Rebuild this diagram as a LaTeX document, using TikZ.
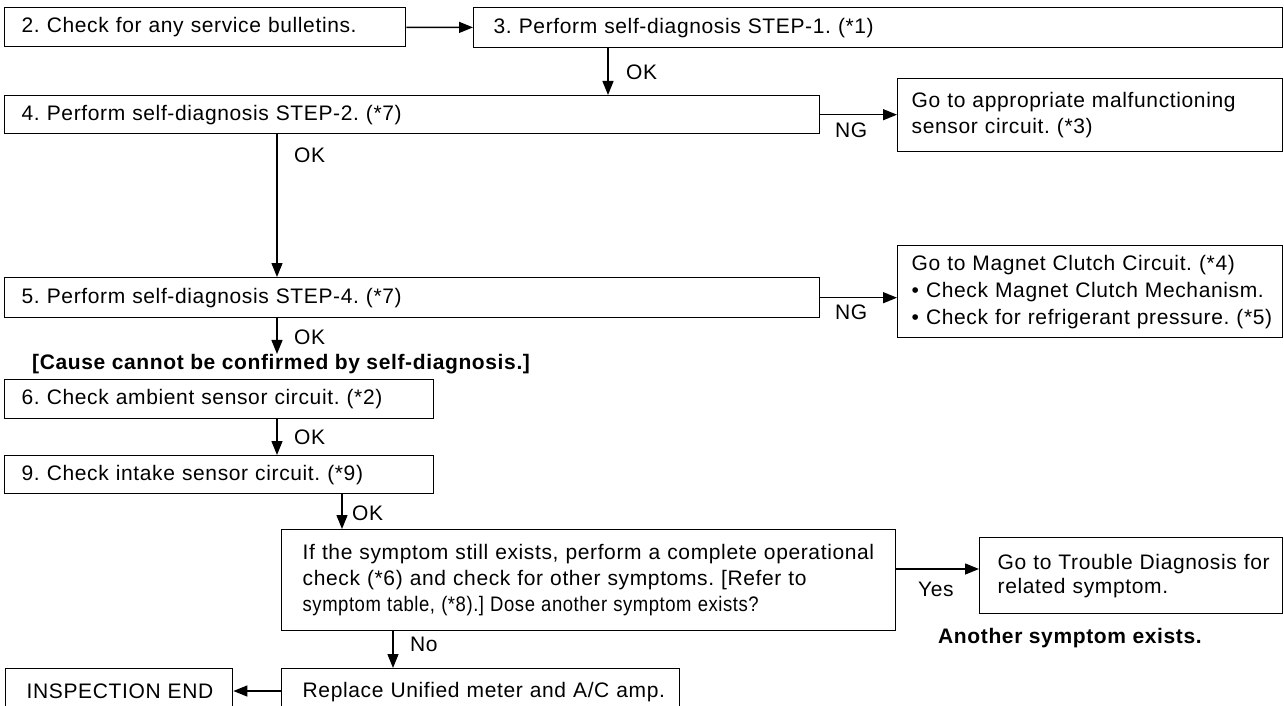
\documentclass[tikz,border=0pt]{standalone}
\usepackage{fontspec}
\usepackage{graphicx}
\setmainfont[LetterSpace=3]{Liberation Sans}
\usetikzlibrary{arrows.meta}
\newcommand\fs{\fontsize{21}{26}\selectfont}
\newcommand\lne[1]{\mbox{#1}}
\begin{document}
\frenchspacing
\begin{tikzpicture}[x=1pt,y=-1pt,
  bx/.style={draw, line width=1.4pt, anchor=north west, align=left, inner xsep=17pt, inner ysep=0pt, font=\fs},
  arr/.style={line width=1.4pt, -{Triangle[length=14pt,width=11pt]}},
  lbl/.style={font=\fs, inner sep=0pt, anchor=west},
  blbl/.style={font=\fs\bfseries, inner sep=0pt, anchor=west},
]
\fill[white] (0,0) rectangle (1284,706);
\clip (0,0) rectangle (1284,706);

\node[bx, text width=401-34, minimum height=39] (b2) at (4,7) {\lne{2. Check for any service bulletins.}};
\node[bx, inner xsep=20pt, text width=809-40, minimum height=40] (b3) at (473,7) {\lne{3. Perform self-diagnosis STEP-1. (*1)}};
\node[bx, text width=815-34, minimum height=38] (b4) at (4,95) {\lne{4. Perform self-diagnosis STEP-2. (*7)}};
\node[bx, inner xsep=14pt, text width=385-28, minimum height=73] (mal) at (897,78) {\lne{Go to appropriate malfunctioning}\\\lne{sensor circuit. (*3)}};
\node[bx, text width=815-34, minimum height=40] (b5) at (4,277) {\lne{5. Perform self-diagnosis STEP-4. (*7)}};
\node[bx, inner xsep=14pt, text width=385-28, minimum height=92, font=\fontsize{21}{27}\selectfont] (mag) at (897,245) {\lne{Go to Magnet Clutch Circuit. (*4)}\\\lne{\textbullet\ Check Magnet Clutch Mechanism.}\\\lne{\textbullet\ Check for refrigerant pressure. (*5)}};
\node[blbl] (cause) at (32,364) {[Cause cannot be confirmed by self-diagnosis.]};
\node[bx, text width=429-34, minimum height=39] (b6) at (4,379) {\lne{6. Check ambient sensor circuit. (*2)}};
\node[bx, text width=429-34, minimum height=38] (b9) at (4,455) {\lne{9. Check intake sensor circuit. (*9)}};
\node[bx, inner xsep=21pt, text width=614-42, minimum height=101, font=\fontsize{21}{26}\selectfont] (big) at (281,529) {\lne{If the symptom still exists, perform a complete operational}\\\lne{check (*6) and check for other symptoms. [Refer to}\\\lne{\scalebox{0.88}[1]{symptom table, (*8).] Dose another symptom exists?}}};
\node[bx, inner xsep=18pt, text width=303-36, minimum height=76, font=\fontsize{21}{24}\selectfont] (tr) at (979,537) {\lne{Go to Trouble Diagnosis for}\\\lne{related symptom.}};
\node[blbl] (another) at (938,638) {Another symptom exists.};
\node[bx, inner xsep=21pt, text width=398-42, minimum height=46] (rep) at (281,668) {\lne{Replace Unified meter and A/C amp.}};
\node[bx, inner xsep=21pt, text width=227-42, minimum height=46] (end) at (5,668) {\lne{INSPECTION END}};

\coordinate (x1) at (608,0);
\coordinate (x2) at (277,0);
\coordinate (x3) at (342,0);
\coordinate (x4) at (393,0);
\coordinate (yy) at (0,569);
\coordinate (ye) at (0,691);

\draw[arr] (b2) -- (b3);
\draw[arr] (b3.south -| x1) -- (b4.north -| x1);
\draw[arr] (b4.east) -- (b4.east -| mal.west);
\draw[arr] (b4.south -| x2) -- (b5.north -| x2);
\draw[arr] (b5.east) -- (b5.east -| mag.west);
\draw[arr] (b5.south -| x2) -- (cause.north -| x2);
\draw[arr] (b6.south -| x2) -- (b9.north -| x2);
\draw[arr] (b9.south -| x3) -- (big.north -| x3);
\draw[arr] (big.east |- yy) -- (tr.west |- yy);
\draw[arr] (big.south -| x4) -- (rep.north -| x4);
\draw[arr] (rep.west |- ye) -- (end.east |- ye);

\node[lbl] (ok1) at (626,72) {OK};
\node[lbl] (ng1) at (835,130) {NG};
\node[lbl] (ok2) at (294,155) {OK};
\node[lbl] (ng2) at (835,312) {NG};
\node[lbl] (ok3) at (294,337) {OK};
\node[lbl] (ok4) at (294,437) {OK};
\node[lbl] (ok5) at (352,513) {OK};
\node[lbl] (yes) at (918,589) {Yes};
\node[lbl] (no) at (410,644) {No};
\end{tikzpicture}
\end{document}
